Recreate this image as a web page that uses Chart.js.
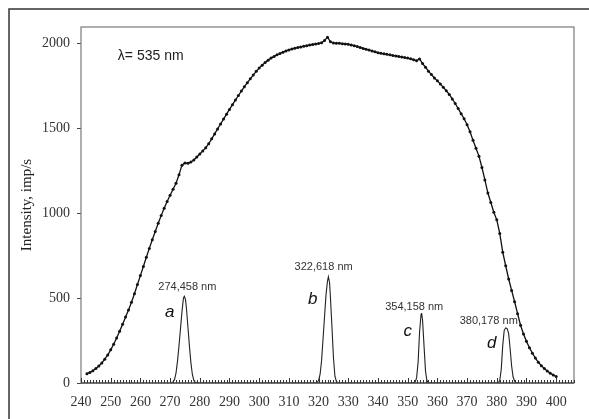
<!DOCTYPE html>
<html>
<head>
<meta charset="utf-8">
<script src="https://cdn.jsdelivr.net/npm/chart.js@4.4.1/dist/chart.umd.min.js"></script>
<style>
  html, body { margin: 0; padding: 0; background: #fff; }
  #wrap { width: 589px; height: 419px; }
</style>
</head>
<body>
<div id="wrap"><canvas id="spectrumChart" width="589" height="419"></canvas></div>
<script>
// excitation spectrum (dotted curve), 1 nm steps
const wavelengths = [
  242, 243, 244, 245, 246, 247, 248, 249, 250, 251,
  252, 253, 254, 255, 256, 257, 258, 259, 260, 261,
  262, 263, 264, 265, 266, 267, 268, 269, 270, 271,
  272, 273, 274, 275, 276, 277, 278, 279, 280, 281,
  282, 283, 284, 285, 286, 287, 288, 289, 290, 291,
  292, 293, 294, 295, 296, 297, 298, 299, 300, 301,
  302, 303, 304, 305, 306, 307, 308, 309, 310, 311,
  312, 313, 314, 315, 316, 317, 318, 319, 320, 321,
  322, 323, 324, 325, 326, 327, 328, 329, 330, 331,
  332, 333, 334, 335, 336, 337, 338, 339, 340, 341,
  342, 343, 344, 345, 346, 347, 348, 349, 350, 351,
  352, 353, 354, 355, 356, 357, 358, 359, 360, 361,
  362, 363, 364, 365, 366, 367, 368, 369, 370, 371,
  372, 373, 374, 375, 376, 377, 378, 379, 380, 381,
  382, 383, 384, 385, 386, 387, 388, 389, 390, 391,
  392, 393, 394, 395, 396, 397, 398, 399, 400
];
const intensity = [
  55, 62, 72, 85, 100, 118, 140, 165, 195, 228,
  265, 305, 345, 388, 430, 475, 525, 580, 632, 686,
  740, 792, 843, 892, 940, 985, 1028, 1068, 1105, 1140,
  1175, 1225, 1282, 1295, 1293, 1300, 1312, 1330, 1348, 1366,
  1384, 1408, 1437, 1466, 1495, 1524, 1553, 1582, 1610, 1638,
  1665, 1692, 1718, 1743, 1767, 1790, 1812, 1834, 1853, 1870,
  1886, 1900, 1912, 1922, 1931, 1939, 1947, 1954, 1960, 1965,
  1970, 1974, 1978, 1982, 1985, 1989, 1992, 1995, 1998, 2002,
  2015, 2035, 2008, 2001, 2000, 1999, 1997, 1995, 1993, 1989,
  1985, 1980, 1975, 1969, 1964, 1959, 1954, 1949, 1944, 1940,
  1937, 1934, 1931, 1928, 1925, 1922, 1919, 1915, 1912, 1908,
  1903, 1897, 1907, 1880, 1858, 1835, 1815, 1795, 1778, 1760,
  1740, 1720, 1698, 1672, 1645, 1615, 1585, 1555, 1520, 1478,
  1428, 1382, 1335, 1268, 1195, 1118, 1062, 1005, 960, 880,
  770, 690, 612, 545, 478, 408, 340, 288, 245, 208,
  175, 147, 122, 102, 85, 70, 58, 47, 38
];

// emission lines a, b, c, d
const peakX = [
  270, 271, 271.5, 272, 272.5, 273, 273.5, 274, 274.5, 274.8, 275.2, 275.5, 276, 276.5, 277, 277.5, 278, 278.5, 279.5,
  319, 319.5, 320, 320.5, 321, 321.5, 322, 322.5, 323, 323.3, 323.7, 324, 324.5, 325, 325.5, 326, 327,
  351.5, 352.5, 353, 353.5, 354, 354.5, 354.7, 355, 355.5, 356, 356.5, 357, 358,
  380, 380.5, 381, 381.5, 382, 382.5, 383, 383.5, 384, 384.5, 385, 385.5, 386, 386.5, 387.5
];
const peakY = [
  0, 5, 20, 60, 130, 220, 320, 420, 500, 510, 490, 440, 330, 220, 120, 50, 15, 4, 0,
  0, 3, 15, 50, 130, 260, 390, 520, 600, 625, 590, 500, 330, 150, 40, 8, 0,
  0, 5, 30, 120, 300, 405, 412, 370, 220, 70, 12, 2, 0,
  0, 3, 15, 80, 220, 310, 324, 320, 290, 200, 100, 35, 10, 2, 0
];

const xTicks = [240, 250, 260, 270, 280, 290, 300, 310, 320, 330, 340, 350, 360, 370, 380, 390, 400];
const yTicks = [0, 500, 1000, 1500, 2000];

const peakNames = ['a', 'b', 'c', 'd'];
const peakLabels = ['274,458 nm', '322,618 nm', '354,158 nm', '380,178 nm'];
const noteText = 'λ= 535 nm';

// where the texts sit, in data units
const labelPos = [[275.8, 565], [321.7, 682], [352.2, 447], [377.3, 365]];
const namePos = [[269.9, 418], [318.0, 494], [350.0, 306], [378.3, 235]];
const notePos = [252.4, 1924];

const decor = {
  id: 'decor',
  beforeDraw(chart) {
    const {ctx, width, height} = chart;
    ctx.save();
    ctx.fillStyle = '#fff';
    ctx.fillRect(0, 0, width, height);
    // outer frame (only top and left fall inside the picture)
    ctx.strokeStyle = '#333';
    ctx.lineWidth = 1.5;
    ctx.beginPath();
    ctx.moveTo(9, height);
    ctx.lineTo(9, 9);
    ctx.lineTo(width, 9);
    ctx.stroke();
    ctx.restore();
  },
  afterDraw(chart) {
    const {ctx, chartArea: a, scales: {x, y}} = chart;
    ctx.save();
    ctx.strokeStyle = '#7a7a7a';
    ctx.lineWidth = 1.2;
    ctx.strokeRect(a.left, a.top, a.right - a.left, a.bottom - a.top);

    // x axis with inward minor ticks
    ctx.strokeStyle = '#333';
    ctx.lineWidth = 1;
    ctx.beginPath();
    ctx.moveTo(a.left, a.bottom);
    ctx.lineTo(a.right, a.bottom);
    for (let v = Math.ceil(x.min); v <= x.max; v++) {
      const px = Math.round(x.getPixelForValue(v)) + 0.5;
      const len = v % 10 === 0 ? 5 : 3;
      ctx.moveTo(px, a.bottom);
      ctx.lineTo(px, a.bottom - len);
    }
    ctx.stroke();

    ctx.textBaseline = 'middle';
    ctx.textAlign = 'center';
    ctx.fillStyle = '#333';
    ctx.font = '11px "Liberation Sans", Arial, sans-serif';
    peakLabels.forEach((t, i) => {
      ctx.fillText(t, x.getPixelForValue(labelPos[i][0]), y.getPixelForValue(labelPos[i][1]));
    });
    ctx.fillStyle = '#111';
    ctx.font = 'italic 17px "Liberation Sans", Arial, sans-serif';
    peakNames.forEach((t, i) => {
      ctx.fillText(t, x.getPixelForValue(namePos[i][0]), y.getPixelForValue(namePos[i][1]));
    });
    ctx.textAlign = 'left';
    ctx.fillStyle = '#222';
    ctx.font = '14px "Liberation Sans", Arial, sans-serif';
    ctx.fillText(noteText, x.getPixelForValue(notePos[0]), y.getPixelForValue(notePos[1]));
    ctx.restore();
  }
};

const serif = {family: '"Liberation Serif", "Times New Roman", serif', size: 14};

new Chart(document.getElementById('spectrumChart'), {
  type: 'line',
  data: {
    datasets: [
      {
        data: wavelengths.map((w, i) => ({x: w, y: intensity[i]})),
        borderColor: '#111',
        borderWidth: 1.3,
        pointRadius: 1.5,
        pointBackgroundColor: '#111',
        pointBorderWidth: 0,
        tension: 0
      },
      {
        data: peakX.map((w, i) => ({x: w, y: peakY[i]})),
        borderColor: '#222',
        borderWidth: 1.1,
        pointRadius: 0,
        tension: 0
      }
    ]
  },
  options: {
    responsive: false,
    animation: false,
    layout: {padding: {top: 27, right: 15, left: 0, bottom: 0}},
    plugins: {legend: {display: false}, tooltip: {enabled: false}},
    scales: {
      x: {
        type: 'linear',
        min: 240,
        max: 406,
        afterBuildTicks: s => { s.ticks = xTicks.map(v => ({value: v})); },
        afterFit: s => { s.height = 36; },
        grid: {display: false, drawTicks: false},
        border: {display: false},
        ticks: {color: '#333', font: serif, padding: 11, maxRotation: 0, autoSkip: false, callback: v => String(v)}
      },
      y: {
        min: 0,
        max: 2095,
        afterBuildTicks: s => { s.ticks = yTicks.map(v => ({value: v})); },
        afterFit: s => { s.width = 81; },
        grid: {drawOnChartArea: false, drawTicks: true, tickLength: 4, color: '#444'},
        border: {display: false},
        ticks: {color: '#333', font: serif, padding: 7, callback: v => String(v)},
        title: {
          display: true,
          text: 'Intensity, imp/s',
          color: '#222',
          font: {family: '"Liberation Serif", "Times New Roman", serif', size: 15},
          padding: {top: 18, bottom: 0}
        }
      }
    }
  },
  plugins: [decor]
});
</script>
</body>
</html>
